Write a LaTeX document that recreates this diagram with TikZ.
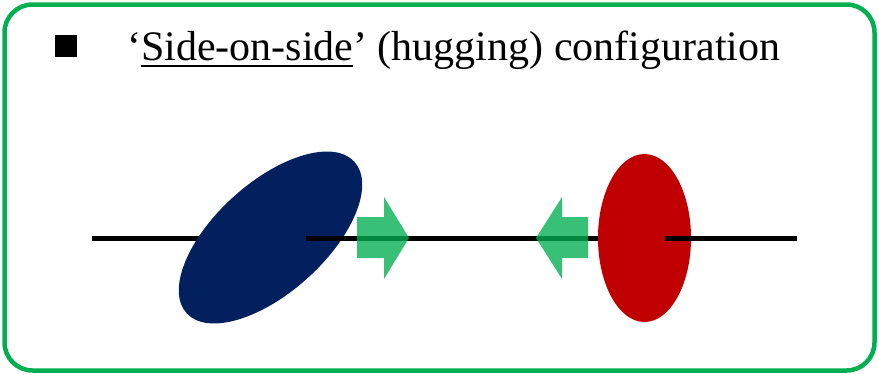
\documentclass[tikz,border=0pt]{standalone}
\usepackage{fontspec}
\setmainfont{Liberation Serif}
\definecolor{ogreen}{RGB}{0,176,80}
\definecolor{navyblob}{RGB}{2,32,94}
\definecolor{redblob}{RGB}{192,0,0}
\newcommand\myuline[1]{\setbox0\hbox{#1}\rlap{\rule[-7pt]{\wd0}{2.2pt}}#1}
\begin{document}
\begin{tikzpicture}[x=1pt,y=-1pt,
  axisline/.style={line width=5pt,black},
  pusharrow/.style={fill=ogreen,fill opacity=0.78,draw=none},
  frame/.style={draw=ogreen,line width=4.5pt,rounded corners=28pt}]
\useasboundingbox (0,0) rectangle (879,375);
\node[frame,minimum width=870pt,minimum height=366pt,inner sep=0pt] (border) at (439.5,187.5) {};
\node[fill=black,minimum width=22pt,minimum height=22pt,inner sep=0pt] (bullet) at (66,46) {};
\node[anchor=base west,inner sep=0pt,font=\fontsize{42}{46}\selectfont] (title) at (127,60)
  {‘\myuline{Side-on-side}’ (hugging) configuration};
% left line under blue ellipse
\coordinate (l1a) at (92,238);
\coordinate (l1b) at (300,238);
\draw[axisline] (l1a) -- (l1b);
\node[inner sep=0pt] (blue) at (270.5,237.5) {};
\fill[navyblob,rotate around={42:(blue)}] (blue) ellipse [x radius=113, y radius=55];
% middle line
\coordinate (l2a) at (306,238);
\coordinate (l2b) at (640,238);
\draw[axisline] (l2a) -- (l2b);
\node[inner sep=0pt] (red) at (644.5,238) {};
\fill[redblob] (red) ellipse [x radius=46.5, y radius=84];
\coordinate (l3a) at (665,238);
\coordinate (l3b) at (797,238);
\draw[axisline] (l3a) -- (l3b);
% arrows
\node[inner sep=0pt] (rarrow) at (383,238) {};
\fill[pusharrow] (357,217) -- (384,217) -- (384,197) -- (409,238) -- (384,279) -- (384,258) -- (357,258) -- cycle;
\node[inner sep=0pt] (larrow) at (562,238) {};
\fill[pusharrow] (588,217) -- (562,217) -- (562,197) -- (536,238) -- (562,279) -- (562,258) -- (588,258) -- cycle;
\end{tikzpicture}
\end{document}
